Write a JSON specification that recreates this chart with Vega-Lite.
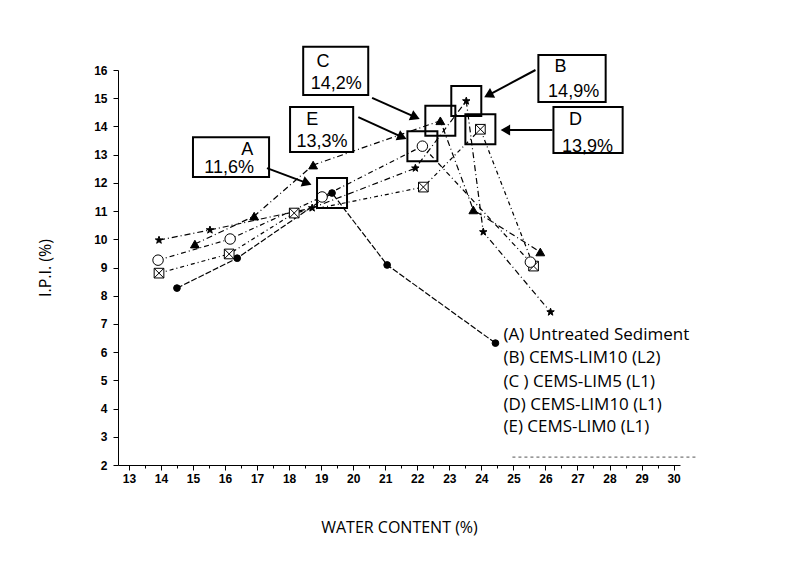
{
  "$schema": "https://vega.github.io/schema/vega-lite/v6.json",
  "width": 562,
  "height": 395,
  "autosize": {"type": "none"},
  "padding": {"left": 118, "top": 70, "right": 105, "bottom": 98},
  "background": "white",
  "config": {
    "view": {"stroke": null},
    "axis": {"labelOverlap": false, "grid": false},
    "axisX": {"labelOverlap": false},
    "axisY": {"labelOverlap": false},
    "axisLeft": {"labelOverlap": false},
    "axisBottom": {"labelOverlap": false},
    "axisQuantitative": {"labelOverlap": false}
  },
  "resolve": {"axis": {"x": "independent", "y": "independent"}},
  "datasets": {
    "series": [
      {"s": "A", "x": 14.5, "y": 8.27},
      {"s": "A", "x": 16.38, "y": 9.33},
      {"s": "A", "x": 19.34, "y": 11.64},
      {"s": "A", "x": 21.06, "y": 9.09},
      {"s": "A", "x": 24.44, "y": 6.32},
      {"s": "B", "x": 13.94, "y": 9.97},
      {"s": "B", "x": 15.53, "y": 10.33},
      {"s": "B", "x": 18.72, "y": 11.11},
      {"s": "B", "x": 21.94, "y": 12.52},
      {"s": "B", "x": 23.53, "y": 14.9},
      {"s": "B", "x": 24.06, "y": 10.26},
      {"s": "B", "x": 26.16, "y": 7.42},
      {"s": "C", "x": 15.06, "y": 9.83},
      {"s": "C", "x": 16.91, "y": 10.82},
      {"s": "C", "x": 18.75, "y": 12.63},
      {"s": "C", "x": 22.72, "y": 14.2},
      {"s": "C", "x": 23.75, "y": 11.04},
      {"s": "C", "x": 25.84, "y": 9.55},
      {"s": "D", "x": 13.94, "y": 8.8},
      {"s": "D", "x": 16.13, "y": 9.48},
      {"s": "D", "x": 18.16, "y": 10.93},
      {"s": "D", "x": 22.19, "y": 11.85},
      {"s": "D", "x": 23.97, "y": 13.9},
      {"s": "D", "x": 25.63, "y": 9.05},
      {"s": "E", "x": 13.91, "y": 9.26},
      {"s": "E", "x": 16.16, "y": 10.01},
      {"s": "E", "x": 19.03, "y": 11.5},
      {"s": "E", "x": 22.16, "y": 13.3},
      {"s": "E", "x": 25.53, "y": 9.19}
    ],
    "peaks": [
      {"s": "A", "x": 19.34, "y": 11.64},
      {"s": "B", "x": 23.53, "y": 14.9},
      {"s": "C", "x": 22.72, "y": 14.2},
      {"s": "D", "x": 23.97, "y": 13.9},
      {"s": "E", "x": 22.16, "y": 13.3}
    ],
    "callouts": [
      {"s": "A", "x": 15.0, "xb": 17.375, "y": 13.62, "yb": 12.21},
      {"s": "C", "x": 18.44, "xb": 20.47, "y": 16.82, "yb": 15.11},
      {"s": "E", "x": 18.03, "xb": 20.0, "y": 14.69, "yb": 13.09},
      {"s": "B", "x": 25.78, "xb": 27.88, "y": 16.53, "yb": 14.87},
      {"s": "D", "x": 26.25, "xb": 28.41, "y": 14.69, "yb": 13.06}
    ],
    "calloutText": [
      {"t": "A", "x": 16.69, "y": 13.16},
      {"t": "11,6%", "x": 16.13, "y": 12.52},
      {"t": "C", "x": 19.06, "y": 16.28},
      {"t": "14,2%", "x": 19.47, "y": 15.5},
      {"t": "E", "x": 18.72, "y": 14.23},
      {"t": "13,3%", "x": 19.03, "y": 13.45},
      {"t": "B", "x": 26.47, "y": 16.11},
      {"t": "14,9%", "x": 26.88, "y": 15.22},
      {"t": "D", "x": 26.94, "y": 14.23},
      {"t": "13,9%", "x": 27.31, "y": 13.27}
    ],
    "arrows": [
      {"s": "A", "x": 17.31, "y": 12.52, "xb": 18.56, "yb": 11.99, "dir": 21},
      {"s": "C", "x": 20.59, "y": 15.01, "xb": 21.94, "yb": 14.33, "dir": 24},
      {"s": "E", "x": 20.16, "y": 14.33, "xb": 21.53, "yb": 13.62, "dir": 24},
      {"s": "B", "x": 25.69, "y": 16.0, "xb": 24.22, "yb": 15.11, "dir": 152},
      {"s": "D", "x": 26.22, "y": 13.87, "xb": 24.75, "yb": 13.87, "dir": 180}
    ],
    "legend": [
      {"t": "(A) Untreated Sediment", "x": 24.69, "y": 6.6},
      {"t": "(B) CEMS-LIM10 (L2)", "x": 24.69, "y": 5.79},
      {"t": "(C ) CEMS-LIM5 (L1)", "x": 24.69, "y": 4.94},
      {"t": "(D) CEMS-LIM10 (L1)", "x": 24.69, "y": 4.12},
      {"t": "(E)  CEMS-LIM0 (L1)", "x": 24.69, "y": 3.34}
    ],
    "legendRule": [
      {"x": 24.97, "xb": 30.7, "y": 2.28}
    ]
  },
  "layer": [
    {
      "data": {"name": "series"},
      "mark": {"type": "line", "color": "black", "strokeWidth": 1.2},
      "encoding": {
        "x": {
          "field": "x", "type": "quantitative",
          "scale": {"domain": [12.66, 30.2], "nice": false, "zero": false},
          "axis": {
            "title": "WATER CONTENT (%)", "orient": "bottom",
            "values": [13,14,15,16,17,18,19,20,21,22,23,24,25,26,27,28,29,30],
            "format": "d", "grid": false, "labelOverlap": false,
            "labelFont": "Liberation Sans", "labelFontWeight": "bold", "labelFontSize": 12, "labelColor": "black",
            "tickColor": "black", "domainColor": "black", "tickSize": 5, "labelPadding": 3,
            "titleFont": "Open Sans", "titleFontSize": 16, "titleFontWeight": "normal", "titleColor": "black", "titlePadding": 35
          }
        },
        "y": {
          "field": "y", "type": "quantitative",
          "scale": {"domain": [2, 16], "nice": false, "zero": false},
          "axis": {
            "title": "I.P.I. (%)", "orient": "left",
            "values": [2,3,4,5,6,7,8,9,10,11,12,13,14,15,16],
            "format": "d", "grid": false, "labelOverlap": false, "labelSeparation": 0, "labelBound": false,
            "labelFont": "Liberation Sans", "labelFontWeight": "bold", "labelFontSize": 12, "labelColor": "black",
            "labelBaseline": "middle",
            "tickColor": "black", "domainColor": "black", "tickSize": 5, "labelPadding": 6,
            "titleFont": "Open Sans", "titleFontSize": 16, "titleFontWeight": "normal", "titleColor": "black", "titlePadding": 40
          }
        },
        "detail": {"field": "s"},
        "strokeDash": {
          "field": "s", "type": "nominal", "legend": null,
          "scale": {"domain": ["A","B","C","D","E"], "range": [[6,2],[6,3,1,3],[6,3,1,3],[4,3,1,3],[5,3,1,3]]}
        }
      }
    },
    {
      "data": {"name": "series"},
      "mark": {"type": "point", "stroke": "black", "strokeWidth": 1, "opacity": 1},
      "encoding": {
        "x": {"field": "x", "type": "quantitative", "axis": {"orient": "bottom", "values": [13.5,14.5,15.5,16.5,17.5,18.5,19.5,20.5,21.5,22.5,23.5,24.5,25.5,26.5,27.5,28.5,29.5], "labels": false, "domain": false, "tickSize": 3, "tickColor": "black", "title": null, "grid": false, "offset": 0}},
        "y": {"field": "y", "type": "quantitative", "axis": null},
        "shape": {
          "field": "s", "type": "nominal", "legend": null,
          "scale": {"domain": ["A","B","C","D","E"], "range": [
            "circle",
            "M0,-1L0.24,-0.31L0.95,-0.31L0.38,0.12L0.59,0.81L0,0.4L-0.59,0.81L-0.38,0.12L-0.95,-0.31L-0.24,-0.31Z",
            "triangle-up",
            "M-1,-1L1,-1L1,1L-1,1ZM-1,-1L1,1M1,-1L-1,1",
            "circle"]}
        },
        "fill": {
          "field": "s", "type": "nominal", "legend": null,
          "scale": {"domain": ["A","B","C","D","E"], "range": ["black","black","black","white","white"]}
        },
        "size": {
          "field": "s", "type": "nominal", "legend": null,
          "scale": {"domain": ["A","B","C","D","E"], "range": [45, 110, 110, 60, 30]}
        }
      }
    },
    {
      "data": {"name": "peaks"},
      "mark": {"type": "point", "shape": "square", "size": 900, "filled": false, "stroke": "black", "strokeWidth": 2, "opacity": 1},
      "encoding": {
        "x": {"field": "x", "type": "quantitative", "axis": null},
        "y": {"field": "y", "type": "quantitative", "axis": null}
      }
    },
    {
      "data": {"name": "callouts"},
      "mark": {"type": "rect", "fill": "white", "stroke": "black", "strokeWidth": 2},
      "encoding": {
        "x": {"field": "x", "type": "quantitative", "axis": null},
        "x2": {"field": "xb"},
        "y": {"field": "y", "type": "quantitative", "axis": null},
        "y2": {"field": "yb"}
      }
    },
    {
      "data": {"name": "calloutText"},
      "mark": {"type": "text", "font": "Liberation Sans", "fontSize": 18, "color": "black", "align": "center", "baseline": "middle"},
      "encoding": {
        "x": {"field": "x", "type": "quantitative", "axis": null},
        "y": {"field": "y", "type": "quantitative", "axis": null},
        "text": {"field": "t"}
      }
    },
    {
      "data": {"name": "arrows"},
      "mark": {"type": "rule", "color": "black", "strokeWidth": 2},
      "encoding": {
        "x": {"field": "x", "type": "quantitative", "axis": null},
        "y": {"field": "y", "type": "quantitative", "axis": null},
        "x2": {"field": "xb"},
        "y2": {"field": "yb"}
      }
    },
    {
      "data": {"name": "arrows"},
      "mark": {"type": "point", "shape": "triangle-right", "filled": true, "color": "black", "size": 120, "opacity": 1},
      "encoding": {
        "x": {"field": "xb", "type": "quantitative", "axis": null},
        "y": {"field": "yb", "type": "quantitative", "axis": null},
        "angle": {"field": "dir", "type": "quantitative", "scale": null}
      }
    },
    {
      "data": {"name": "legend"},
      "mark": {"type": "text", "font": "Open Sans", "fontSize": 17, "color": "black", "align": "left", "baseline": "middle"},
      "encoding": {
        "x": {"field": "x", "type": "quantitative", "axis": null},
        "y": {"field": "y", "type": "quantitative", "axis": null},
        "text": {"field": "t"}
      }
    },
    {
      "data": {"name": "legendRule"},
      "mark": {"type": "rule", "color": "#555555", "strokeWidth": 1, "strokeDash": [3, 3]},
      "encoding": {
        "x": {"field": "x", "type": "quantitative", "axis": null},
        "x2": {"field": "xb"},
        "y": {"field": "y", "type": "quantitative", "axis": null}
      }
    }
  ]
}
